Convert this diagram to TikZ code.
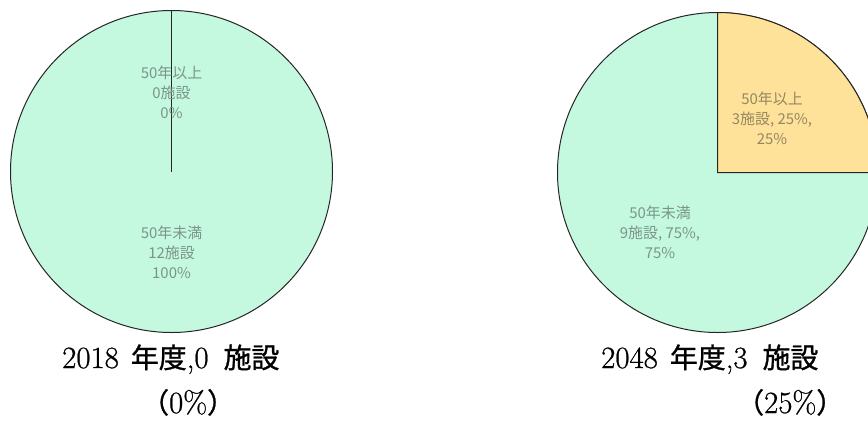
\documentclass[tikz,border=0pt]{standalone}
\usepackage{fontspec}
\newfontfamily\jp{Noto Sans CJK JP}
\newfontfamily\jpcap{Noto Sans CJK JP}[FakeBold=1]
\newfontfamily\lmcap{Latin Modern Roman}[FakeBold=0.7]
\definecolor{mint}{HTML}{C4F9E0}
\definecolor{sand}{HTML}{FFE29A}
\definecolor{lblg}{HTML}{7A9588}
\definecolor{lbly}{HTML}{938760}
\newcommand{\cj}[1]{{\jpcap\fontsize{28}{30}\selectfont #1}}
\tikzset{
  pie/.style={draw=black!85, line width=1bp},
  plabel/.style={font=\jp\fontsize{15}{20}\selectfont, align=center, inner sep=0pt},
  caption/.style={font=\lmcap\fontsize{31}{34}\selectfont, inner sep=0pt, anchor=base west}
}
\begin{document}
\begin{tikzpicture}[x=1bp,y=-1bp]
\clip (0,0) rectangle (868,421);
\fill[white] (0,0) rectangle (868,421);
% left pie
\coordinate (lc) at (171.5,171.5);
\filldraw[pie, fill=mint] (lc) circle[radius=161];
\coordinate (ltop) at (171.5,10.5);
\draw[pie] (ltop) -- (lc);
\node[plabel, text=lblg] (l1) at (171.5,92) {50年以上\\0施設\\0\%};
\node[plabel, text=lblg] (l2) at (171.5,252) {50年未満\\12施設\\100\%};
% right pie
\coordinate (rc) at (717.5,172.5);
\filldraw[pie, fill=mint] (rc) circle[radius=160];
\filldraw[pie, fill=sand] (rc) -- ++(0,-160) arc[start angle=270, end angle=360, radius=160] -- cycle;
\node[plabel, text=lbly] (r1) at (772,118) {50年以上\\3施設, 25\%,\\25\%};
\node[plabel, text=lblg] (r2) at (660,232) {50年未満\\9施設, 75\%,\\75\%};
% captions
\node[caption] (c1) at (62,368) {2018\hspace{12bp}\cj{年度},0\hspace{15bp}\cj{施設}};
\node[caption] (c2) at (141,413) {\cj{（}0\%\cj{）}};
\node[caption] (c3) at (601,368) {2048\hspace{12bp}\cj{年度},3\hspace{15bp}\cj{施設}};
\node[caption] (c4) at (736,413) {\cj{（}25\%\cj{）}};
\end{tikzpicture}
\end{document}
